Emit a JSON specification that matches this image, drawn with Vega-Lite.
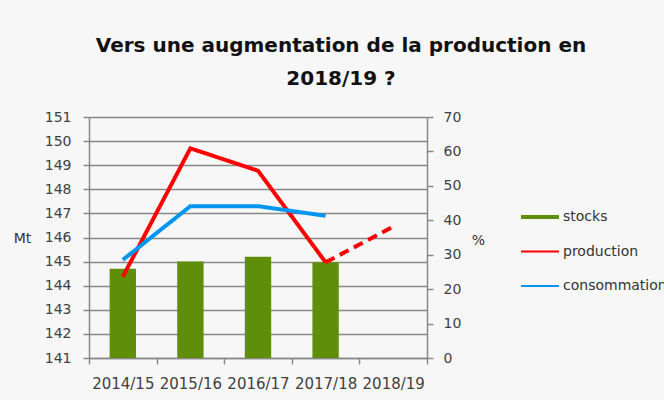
{
  "$schema": "https://vega.github.io/schema/vega-lite/v6.json",
  "width": 338,
  "height": 241,
  "autosize": "none",
  "padding": {"left": 89, "top": 117, "right": 237, "bottom": 42},
  "background": "#f7f7f7",
  "title": {
    "text": ["Vers une augmentation de la production en", "2018/19 ?"],
    "font": "DejaVu Sans",
    "fontSize": 20,
    "fontWeight": "bold",
    "color": "#111111",
    "anchor": "middle",
    "frame": "group",
    "dx": 83,
    "lineHeight": 33,
    "offset": 21
  },
  "datasets": {
    "stocks": [
      {"year": "2014/15", "serie": "stocks", "value": 25.9},
      {"year": "2015/16", "serie": "stocks", "value": 28.0},
      {"year": "2016/17", "serie": "stocks", "value": 29.4},
      {"year": "2017/18", "serie": "stocks", "value": 27.8}
    ],
    "lines": [
      {"year": "2014/15", "serie": "production", "seg": "réalisé", "value": 144.37},
      {"year": "2015/16", "serie": "production", "seg": "réalisé", "value": 149.7},
      {"year": "2016/17", "serie": "production", "seg": "réalisé", "value": 148.77},
      {"year": "2017/18", "serie": "production", "seg": "réalisé", "value": 144.97},
      {"year": "2017/18", "serie": "production", "seg": "prévision", "value": 144.97},
      {"year": "2018/19", "serie": "production", "seg": "prévision", "value": 146.45},
      {"year": "2014/15", "serie": "consommation", "seg": "réalisé", "value": 145.07},
      {"year": "2015/16", "serie": "consommation", "seg": "réalisé", "value": 147.3},
      {"year": "2016/17", "serie": "consommation", "seg": "réalisé", "value": 147.3},
      {"year": "2017/18", "serie": "consommation", "seg": "réalisé", "value": 146.9}
    ]
  },
  "config": {
    "view": {"stroke": null},
    "axis": {
      "labelFont": "DejaVu Sans",
      "labelFontSize": 14,
      "labelColor": "#404040",
      "titleFont": "DejaVu Sans",
      "titleFontSize": 14,
      "titleFontWeight": "normal",
      "titleColor": "#333333",
      "domainColor": "#888888",
      "domainWidth": 1.5,
      "tickColor": "#888888",
      "tickWidth": 1.5,
      "tickSize": 6,
      "gridColor": "#888888",
      "gridWidth": 1.6
    },
    "legend": {
      "labelFont": "DejaVu Sans",
      "labelFontSize": 14,
      "labelColor": "#333333"
    }
  },
  "encoding": {
    "x": {
      "field": "year",
      "type": "nominal",
      "sort": null,
      "scale": {"domain": ["2014/15", "2015/16", "2016/17", "2017/18", "2018/19"], "paddingInner": 0, "paddingOuter": 0},
      "axis": {"title": null, "labelAngle": 0, "tickBand": "extent", "labelPadding": 12, "labelFontSize": 15, "grid": false}
    },
    "color": {
      "field": "serie",
      "type": "nominal",
      "scale": {"domain": ["stocks", "production", "consommation"], "range": ["#5f8f0a", "#ff0000", "#0096f0"]},
      "legend": {
        "title": null,
        "orient": "none",
        "legendX": 432,
        "legendY": 81,
        "symbolType": "M-1,-0.1H1V0.1H-1Z",
        "symbolSize": 1444,
        "symbolStrokeWidth": 0,
        "labelOffset": 4,
        "rowPadding": 8.5,
        "padding": 0,
        "encode": {
          "symbols": {
            "update": {
              "shape": {"signal": "datum.value === 'stocks' ? 'M-1,-0.11H1V0.11H-1Z' : 'M-1,-0.055H1V0.055H-1Z'"},
              "fill": {"signal": "datum.value === 'stocks' ? '#5f8f0a' : (datum.value === 'production' ? '#ff0000' : '#0096f0')"},
              "strokeWidth": {"value": 0},
              "fillOpacity": {"value": 1}
            }
          }
        }
      }
    }
  },
  "layer": [
    {
      "data": {"name": "stocks"},
      "mark": {"type": "bar", "width": {"band": 0.39}},
      "encoding": {
        "y": {
          "field": "value",
          "type": "quantitative",
          "scale": {"domain": [0, 70], "nice": false},
          "axis": {"orient": "right", "title": "%", "titleAngle": 0, "titleAlign": "center", "titleBaseline": "middle", "titleX": 51, "titleY": 123, "values": [0, 10, 20, 30, 40, 50, 60, 70], "grid": false, "labelPadding": 10}
        }
      }
    },
    {
      "data": {"name": "lines"},
      "mark": {"type": "line", "strokeWidth": 4},
      "encoding": {
        "y": {
          "field": "value",
          "type": "quantitative",
          "scale": {"domain": [141, 151], "nice": false, "zero": false},
          "axis": {"orient": "left", "title": "Mt", "titleAngle": 0, "titleAlign": "center", "titleBaseline": "middle", "titleX": -67, "titleY": 121, "values": [141, 142, 143, 144, 145, 146, 147, 148, 149, 150, 151], "grid": true, "labelPadding": 12, "format": "d"}
        },
        "detail": {"field": "seg"},
        "strokeDash": {
          "field": "seg",
          "type": "nominal",
          "scale": {"domain": ["réalisé", "prévision"], "range": [[1, 0], [10, 6]]},
          "legend": null
        }
      }
    }
  ],
  "resolve": {"scale": {"y": "independent"}}
}
